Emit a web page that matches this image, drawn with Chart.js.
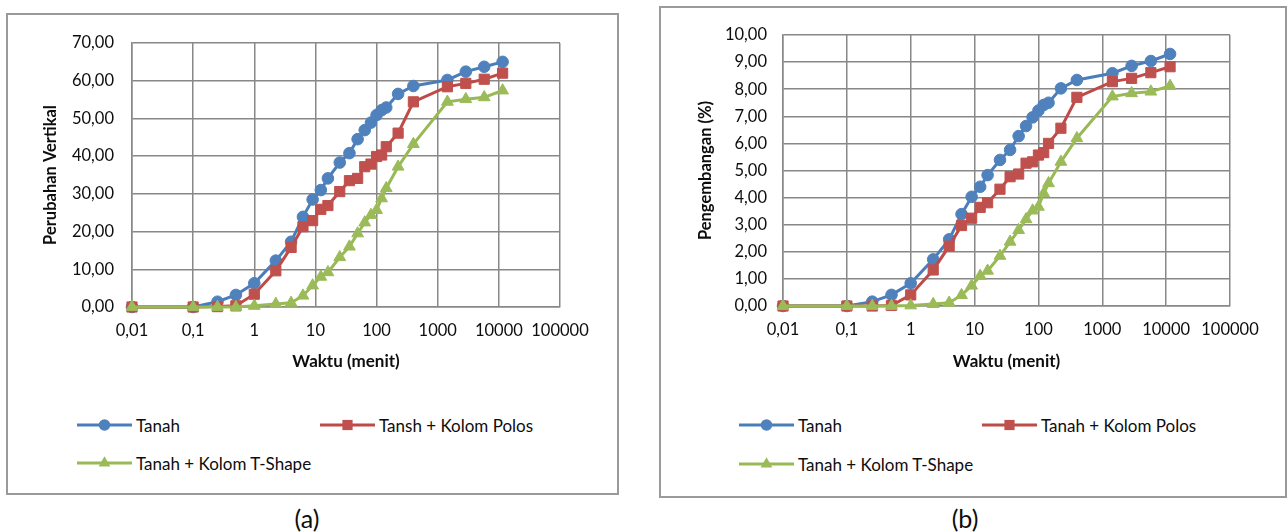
<!DOCTYPE html>
<html>
<head>
<meta charset="utf-8">
<script src="https://cdn.jsdelivr.net/npm/chart.js@4.4.1/dist/chart.umd.min.js"></script>
<style>
  html, body { margin: 0; padding: 0; background: #fff; }
  body { width: 1288px; height: 532px; position: relative; overflow: hidden; font-family: Lato, "Open Sans", sans-serif; color: #0d0d0d; }
  .box { position: absolute; border: 2px solid #9a9a9a; box-sizing: border-box; }
  canvas { position: absolute; }
  .leg { position: absolute; height: 20px; display: flex; align-items: center; font-size: 17px; white-space: nowrap; }
  .leg svg { margin-right: 4px; }
  .cap { position: absolute; font-size: 25px; transform: translate(-50%, -50%); }
</style>
</head>
<body>
<div class="box" style="left:6px; top:13px; width:613px; height:482px;"></div>
<div class="box" style="left:659px; top:6px; width:628px; height:492px;"></div>
<canvas id="chartA" width="600" height="380" style="left:7px; top:14px;"></canvas>
<canvas id="chartB" width="620" height="380" style="left:661px; top:7px;"></canvas>
<div id="legendA"></div>
<div id="legendB"></div>
<div class="cap" style="left:307px; top:518px;">(a)</div>
<div class="cap" style="left:965px; top:518px;">(b)</div>
<script>
// Elapsed time of each reading (minutes)
const waktu = [0.01, 0.1, 0.25, 0.5, 1, 2.25, 4, 6.25, 9, 12.25, 16, 25, 36, 49, 64, 81, 100, 121, 144, 225, 400, 1440, 2880, 5760, 11520];

// (a) Perubahan vertikal
const tanahA  = [0, 0, 1.4, 3.2, 6.3, 12.3, 17.3, 23.9, 28.5, 31.0, 34.1, 38.3, 40.8, 44.5, 46.9, 48.9, 50.9, 52.2, 52.9, 56.5, 58.6, 60.2, 62.4, 63.7, 65.0];
const polosA  = [0, 0, 0.1, 0.3, 3.4, 9.6, 15.8, 21.3, 22.9, 25.9, 26.9, 30.6, 33.5, 34.1, 37.2, 37.9, 39.9, 40.3, 42.5, 46.1, 54.4, 58.4, 59.3, 60.4, 62.0];
const tshapeA = [0, 0, 0, 0, 0.3, 0.8, 1.1, 3.0, 5.7, 8.0, 9.2, 13.2, 16.0, 19.5, 22.4, 24.4, 25.7, 28.8, 31.5, 37.2, 43.2, 54.4, 55.1, 55.6, 57.4];

// (b) Pengembangan (%)
const tanahB  = [0, 0, 0.16, 0.41, 0.84, 1.72, 2.46, 3.39, 4.03, 4.40, 4.83, 5.39, 5.76, 6.27, 6.64, 6.96, 7.21, 7.42, 7.50, 8.03, 8.34, 8.59, 8.86, 9.04, 9.30];
const polosB  = [0, 0, 0, 0.02, 0.41, 1.33, 2.21, 2.97, 3.24, 3.64, 3.81, 4.31, 4.77, 4.87, 5.27, 5.32, 5.57, 5.66, 6.00, 6.56, 7.70, 8.28, 8.40, 8.61, 8.83];
const tshapeB = [0, 0, 0, 0, 0.02, 0.07, 0.12, 0.40, 0.75, 1.11, 1.30, 1.85, 2.37, 2.80, 3.20, 3.52, 3.66, 4.16, 4.53, 5.32, 6.19, 7.73, 7.85, 7.91, 8.12];

// Axis ticks
const xTicks = [0.01, 0.1, 1, 10, 100, 1000, 10000, 100000];
const xTickLabels = ['0,01', '0,1', '1', '10', '100', '1000', '10000', '100000'];
const yMaxA = 70, yStepA = 10;
const yMaxB = 10, yStepB = 1;

// Series names
const namesA = ['Tanah', 'Tansh + Kolom Polos', 'Tanah + Kolom T-Shape'];
const namesB = ['Tanah', 'Tanah + Kolom Polos', 'Tanah + Kolom T-Shape'];

const FONT = 'Lato, "Open Sans", sans-serif';
const GRID = '#888888';
const TEXT = '#0d0d0d';
const styles = [
  { line: '#4A7EBB', fill: '#4F81BD', shape: 'circle',   radius: 5.8 },
  { line: '#BE4B48', fill: '#C0504D', shape: 'rect',     radius: 7.2 },
  { line: '#98B954', fill: '#9BBB59', shape: 'triangle', radius: 6.8 }
];

function points(xs, ys) { return xs.map((x, i) => ({ x: x, y: ys[i] })); }
function comma(v) { return v.toFixed(2).replace('.', ','); }

function makeChart(id, names, series, yMax, yStep, yTitle, geo) {
  const datasets = series.map((vals, i) => ({
    label: names[i],
    data: points(waktu, vals),
    borderColor: styles[i].line,
    backgroundColor: styles[i].fill,
    pointBackgroundColor: styles[i].fill,
    pointBorderColor: styles[i].fill,
    pointStyle: styles[i].shape,
    pointRadius: styles[i].radius,
    pointBorderWidth: 1,
    borderWidth: 3,
    tension: 0,
    clip: false,
    order: series.length - 1 - i
  }));
  return new Chart(document.getElementById(id), {
    type: 'line',
    data: { datasets: datasets },
    options: {
      responsive: false,
      animation: false,
      devicePixelRatio: 1,
      layout: { padding: { left: 0, top: geo.top, right: geo.right, bottom: 0 } },
      plugins: { legend: { display: false }, tooltip: { enabled: false } },
      scales: {
        x: {
          type: 'logarithmic',
          min: 0.01,
          max: 100000,
          afterBuildTicks: (s) => { s.ticks = xTicks.map(v => ({ value: v })); },
          afterFit: (s) => { s.height = geo.xHeight; },
          grid: { color: GRID, lineWidth: 1.5, drawTicks: false },
          border: { color: GRID, width: 1.5 },
          ticks: {
            autoSkip: false, maxRotation: 0, padding: 14,
            color: TEXT, font: { family: FONT, size: 16.5 },
            callback: (v, i) => xTickLabels[i]
          },
          title: {
            display: true, text: 'Waktu (menit)', color: TEXT,
            font: { family: FONT, size: 17, weight: 'bold' },
            padding: { top: 0, bottom: geo.xTitlePad }
          }
        },
        y: {
          type: 'linear',
          min: 0,
          max: yMax,
          afterFit: (s) => { s.width = geo.yWidth; },
          grid: { color: GRID, lineWidth: 1.5, drawTicks: false },
          border: { color: GRID, width: 1.5 },
          ticks: {
            stepSize: yStep, padding: geo.yTickPad,
            color: TEXT, font: { family: FONT, size: 16.5 },
            callback: (v) => comma(v)
          },
          title: {
            display: true, text: yTitle, color: TEXT,
            font: { family: FONT, size: 16.5, weight: 'bold' },
            padding: { top: geo.yTitlePad, bottom: 0 }
          }
        }
      }
    }
  });
}

// Legend entries: a line segment with the series marker, then the name
function legendSwatch(st) {
  let marker = '';
  if (st.shape === 'circle') {
    marker = `<circle cx="27.5" cy="10" r="5.8" fill="${st.fill}"/>`;
  } else if (st.shape === 'rect') {
    marker = `<rect x="22.4" y="4.9" width="10.2" height="10.2" fill="${st.fill}"/>`;
  } else {
    marker = `<polygon points="27.5,3.2 33.4,13.4 21.6,13.4" fill="${st.fill}"/>`;
  }
  return `<svg width="55" height="20" viewBox="0 0 55 20"><line x1="0" y1="10" x2="55" y2="10" stroke="${st.line}" stroke-width="3"/>${marker}</svg>`;
}

function buildLegend(holderId, chart, places) {
  const holder = document.getElementById(holderId);
  chart.data.datasets.forEach((ds, i) => {
    const el = document.createElement('div');
    el.className = 'leg';
    el.style.left = places[i][0] + 'px';
    el.style.top = (places[i][1] - 10) + 'px';
    el.innerHTML = legendSwatch(styles[i]) + '<span>' + ds.label + '</span>';
    holder.appendChild(el);
  });
}

const chartA = makeChart('chartA', namesA, [tanahA, polosA, tshapeA], yMaxA, yStepA, 'Perubahan Vertikal',
  { top: 29, right: 47, xHeight: 87, xTitlePad: 22, yWidth: 125, yTickPad: 18, yTitlePad: 34 });
const chartB = makeChart('chartB', namesB, [tanahB, polosB, tshapeB], yMaxB, yStepB, 'Pengembangan (%)',
  { top: 28, right: 51, xHeight: 81, xTitlePad: 15, yWidth: 122, yTickPad: 16, yTitlePad: 35 });

buildLegend('legendA', chartA, [[77, 425], [320, 425], [77, 463]]);
buildLegend('legendB', chartB, [[739, 425], [982, 425], [739, 464]]);
</script>
</body>
</html>
